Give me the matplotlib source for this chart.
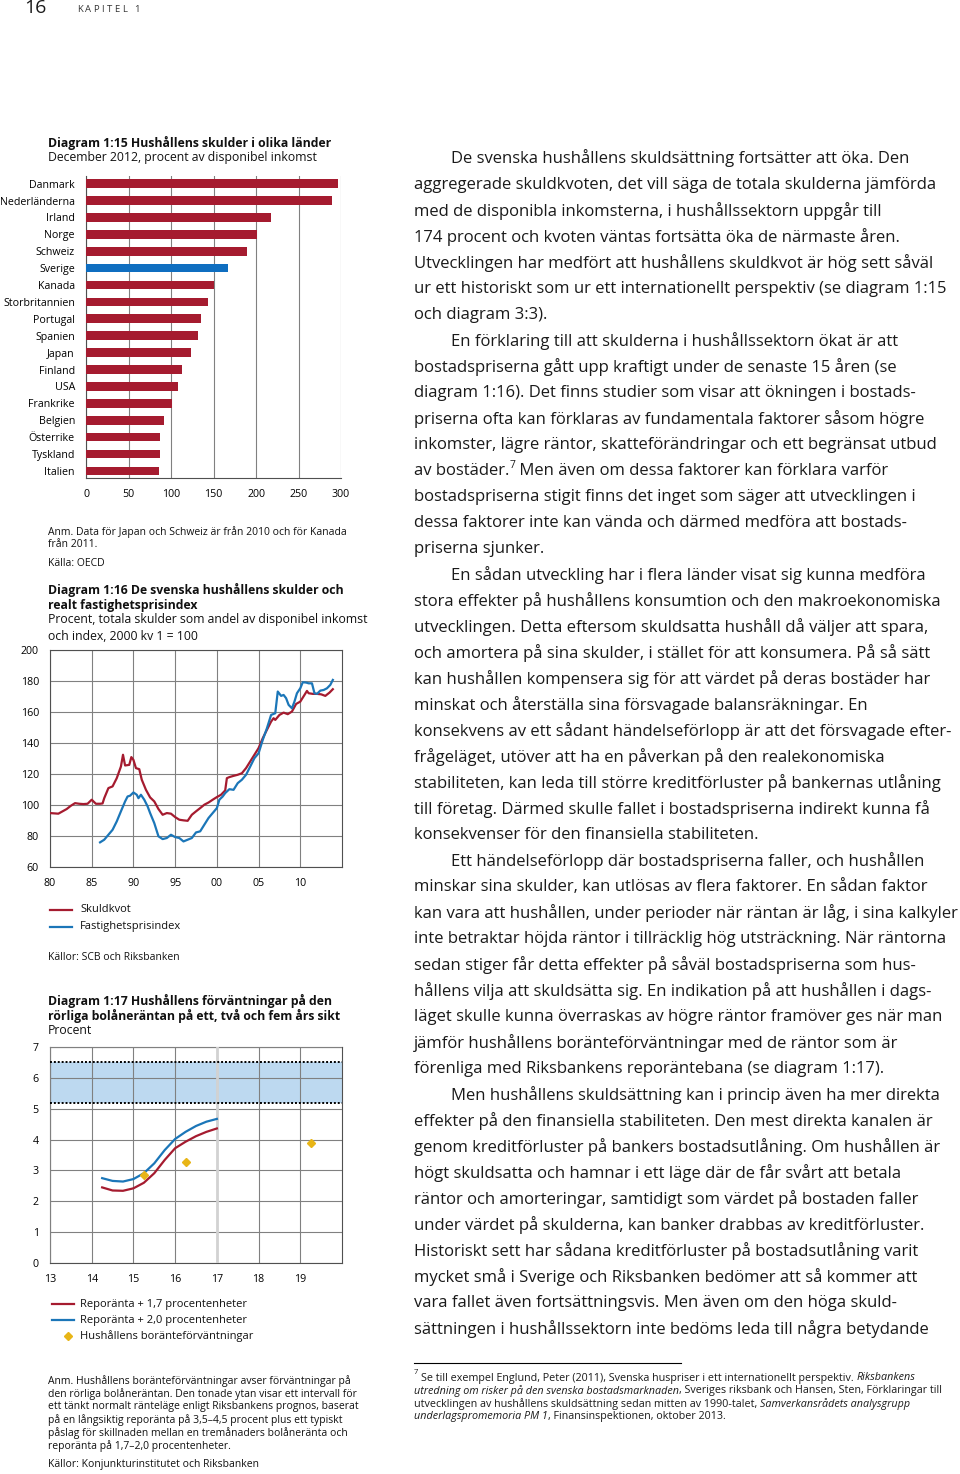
import matplotlib
matplotlib.use('Agg')
import matplotlib.pyplot as plt
from matplotlib.lines import Line2D
import numpy as np

W, H = 960, 1474
plt.rcParams['font.family'] = ['Open Sans', 'DejaVu Sans']

RED = '#a51b2f'
BLUE = '#1b76b8'
BAR_BLUE = '#0f6ec0'
GOLD = '#e8b516'
GRID = '#808080'
SPINE = '#505050'
BAND = '#bdd9f0'

# ---------------- data: Diagram 1:15 ----------------
countries = ['Danmark', 'Nederländerna', 'Irland', 'Norge', 'Schweiz', 'Sverige',
             'Kanada', 'Storbritannien', 'Portugal', 'Spanien', 'Japan', 'Finland',
             'USA', 'Frankrike', 'Belgien', 'Österrike', 'Tyskland', 'Italien']
debt = [297, 289, 218, 201, 189, 167, 151, 143, 135, 132, 123, 113, 108, 101, 92, 87, 86.5, 86]
bar_x_ticks = [0, 50, 100, 150, 200, 250, 300]

# ---------------- data: Diagram 1:16 ----------------
sk_years = [1980.0, 1981.0, 1982.0, 1982.5, 1983.0, 1983.5, 1984.0, 1984.5, 1985.0, 1985.5,
            1986.0, 1986.3, 1986.5, 1987.0, 1987.5, 1988.0, 1988.5, 1988.75, 1989.0, 1989.5,
            1989.75, 1990.0, 1990.3, 1990.7, 1991.0, 1991.5, 1992.0, 1992.5, 1993.0, 1993.5,
            1994.0, 1994.5, 1995.0, 1995.5, 1996.0, 1996.5, 1997.0, 1997.5, 1998.0, 1998.5,
            1999.0, 1999.5, 2000.0, 2000.5, 2001.0, 2001.2, 2001.5, 2002.0, 2002.5, 2003.0,
            2003.5, 2004.0, 2004.5, 2005.0, 2005.5, 2006.0, 2006.5, 2006.8, 2007.0, 2007.5,
            2008.0, 2008.5, 2009.0, 2009.5, 2010.0, 2010.5, 2010.8, 2011.0, 2011.5, 2012.0,
            2012.5, 2013.0, 2013.5, 2013.9]
sk_vals = [94.8, 94.4, 97.4, 99.5, 101.2, 100.8, 100.6, 100.8, 103.4, 100.8,
           100.8, 101.0, 104.4, 110.9, 112.0, 117.3, 124.8, 132.4, 125.5, 125.9,
           130.9, 129.1, 123.8, 123.1, 116.3, 109.8, 104.9, 102.3, 97.4, 93.7,
           94.8, 94.4, 92.2, 90.5, 90.1, 89.8, 93.7, 95.9, 98.0, 100.2,
           101.6, 103.4, 105.1, 106.6, 109.4, 117.3, 118.0, 118.8, 119.5, 120.5,
           123.8, 128.1, 132.4, 136.7, 143.1, 148.5, 153.8, 156.0, 154.9, 158.1,
           159.6, 158.6, 160.3, 165.2, 166.7, 171.0, 173.6, 172.1, 171.7, 171.7,
           171.4, 170.4, 172.5, 174.7]
fp_years = [1986.0, 1986.5, 1987.0, 1987.5, 1988.0, 1988.5, 1989.0, 1989.3, 1989.6, 1990.0,
            1990.4, 1990.6, 1990.9, 1991.3, 1991.7, 1992.0, 1992.5, 1993.0, 1993.5, 1994.0,
            1994.5, 1995.0, 1995.5, 1996.0, 1996.5, 1997.0, 1997.5, 1998.0, 1998.5, 1999.0,
            1999.5, 2000.0, 2000.3, 2000.7, 2001.0, 2001.5, 2002.0, 2002.5, 2003.0, 2003.5,
            2004.0, 2004.5, 2005.0, 2005.5, 2006.0, 2006.5, 2007.0, 2007.3, 2007.7, 2008.0,
            2008.3, 2008.6, 2009.0, 2009.3, 2009.6, 2010.0, 2010.3, 2010.7, 2011.0, 2011.4,
            2011.7, 2012.0, 2012.4, 2012.8, 2013.2, 2013.6, 2013.9]
fp_vals = [75.9, 77.6, 80.8, 84.0, 89.4, 95.9, 102.3, 105.5, 106.0, 108.1,
           106.6, 104.4, 106.6, 103.4, 99.1, 94.8, 88.3, 79.8, 78.0, 78.7,
           80.8, 79.3, 78.7, 76.5, 77.6, 78.7, 82.3, 83.0, 87.3, 91.6,
           94.8, 98.0, 103.4, 105.5, 107.7, 110.2, 109.8, 114.1, 116.3, 119.5,
           124.8, 130.2, 133.4, 142.0, 149.5, 158.1, 159.2, 173.2, 170.4, 171.0,
           168.9, 164.6, 162.4, 166.7, 172.1, 175.3, 179.2, 179.0, 178.5, 178.5,
           172.1, 171.7, 173.8, 174.2, 175.3, 177.5, 180.7]
yr_ticks = [1980, 1985, 1990, 1995, 2000, 2005, 2010]
yr_labels = ['80', '85', '90', '95', '00', '05', '10']

# ---------------- data: Diagram 1:17 ----------------
rate_x = [14.25, 14.5, 14.75, 15.0, 15.25, 15.5, 15.75, 16.0, 16.25, 16.5, 16.75, 17.0]
repo_17 = [2.45, 2.35, 2.34, 2.42, 2.60, 2.91, 3.34, 3.72, 3.93, 4.11, 4.25, 4.36]
repo_20 = [2.75, 2.66, 2.64, 2.72, 2.91, 3.23, 3.66, 4.02, 4.25, 4.44, 4.58, 4.67]
exp_x = [15.25, 16.25, 19.25]
exp_vals = [2.86, 3.28, 3.89]
band_low, band_high = 5.2, 6.5
rate_xticks = [13, 14, 15, 16, 17, 18, 19]

fig = plt.figure(figsize=(W / 100, H / 100), dpi=100)
renderer = fig.canvas.get_renderer()


def ax_px(l, t, r, b):
    return fig.add_axes([l / W, 1 - b / H, (r - l) / W, (b - t) / H])


def ftext(x, y, s, **kw):
    kw.setdefault('va', 'center')
    kw.setdefault('ha', 'left')
    return fig.text(x / W, 1 - y / H, s, **kw)


def twidth(s, **kw):
    t1 = fig.text(0, 0, '|' + s + '|', **kw)
    t2 = fig.text(0, 0, '||', **kw)
    w = t1.get_window_extent(renderer).width - t2.get_window_extent(renderer).width
    t1.remove(); t2.remove()
    return w


def runs(x, y, parts, size, color='#1a1a1a'):
    for s, st in parts:
        st = dict(st)
        dy = st.pop('dy', 0)
        sz = st.pop('size', size)
        kw = dict(fontsize=sz, color=color, **st)
        ftext(x, y - dy, s, **kw)
        x += twidth(s, **kw)


# ---------------- header ----------------
ftext(24, 8, '16', fontsize=14, color='#1a1a1a')
xx = 77
for ch in 'KAPITEL 1':
    ftext(xx, 9, ch, fontsize=6.8, color='#333333')
    xx += twidth(ch, fontsize=6.8) + 2.4

TS = 8.8   # chart title size
NS = 7.5   # note size
TK = 7.7   # tick size
LG = 8.0   # legend size

# ---------------- Diagram 1:15 ----------------
ftext(48, 143, 'Diagram 1:15 Hushållens skulder i olika länder', fontsize=TS, fontweight='bold', color='#111')
ftext(48, 158, 'December 2012, procent av disponibel inkomst', fontsize=TS, color='#111')
ax1 = ax_px(86, 176, 341, 478)
pos = np.arange(len(countries))
cols = [BAR_BLUE if c == 'Sverige' else RED for c in countries]
ax1.barh(pos, debt, height=0.52, color=cols, zorder=3)
ax1.set_xlim(0, 300)
ax1.set_ylim(len(countries) - 1 + 0.42, -0.45)
ax1.set_xticks(bar_x_ticks)
ax1.set_yticks(pos, countries)
ax1.tick_params(length=0, labelsize=TK, pad=8)
ax1.grid(axis='x', color=GRID, lw=0.8, zorder=0)
for s in ['top', 'right']:
    ax1.spines[s].set_visible(False)
for s in ['left', 'bottom']:
    ax1.spines[s].set_color(SPINE)
    ax1.spines[s].set_linewidth(0.8)
ax1.set_axisbelow(True)

ftext(48, 532, 'Anm. Data för Japan och Schweiz är från 2010 och för Kanada', fontsize=NS, color='#111')
ftext(48, 545, 'från 2011.', fontsize=NS, color='#111')
ftext(48, 564, 'Källa: OECD', fontsize=NS, color='#111')

# ---------------- Diagram 1:16 ----------------
ftext(48, 590, 'Diagram 1:16 De svenska hushållens skulder och', fontsize=TS, fontweight='bold', color='#111')
ftext(48, 605, 'realt fastighetsprisindex', fontsize=TS, fontweight='bold', color='#111')
ftext(48, 620, 'Procent, totala skulder som andel av disponibel inkomst', fontsize=TS, color='#111')
ftext(48, 636, 'och index, 2000 kv 1 = 100', fontsize=TS, color='#111')
ax2 = ax_px(50, 650, 342, 867)
ax2.plot(sk_years, sk_vals, color=RED, lw=1.6, zorder=3)
ax2.plot(fp_years, fp_vals, color=BLUE, lw=1.6, zorder=3)
ax2.set_xlim(1980, 2015)
ax2.set_ylim(60, 200)
ax2.set_xticks(yr_ticks, yr_labels)
ax2.set_yticks(range(60, 201, 20))
ax2.tick_params(length=0, labelsize=TK, pad=8)
ax2.grid(color=GRID, lw=0.8, zorder=0)
for s in ax2.spines.values():
    s.set_color(SPINE); s.set_linewidth(0.8)

fig.add_artist(Line2D([50 / W, 72 / W], [1 - 910 / H] * 2, color=RED, lw=1.6))
fig.add_artist(Line2D([50 / W, 72 / W], [1 - 927 / H] * 2, color=BLUE, lw=1.6))
ftext(80, 910, 'Skuldkvot', fontsize=LG, color='#111')
ftext(80, 927, 'Fastighetsprisindex', fontsize=LG, color='#111')
ftext(48, 957, 'Källor: SCB och Riksbanken', fontsize=NS, color='#111')

# ---------------- Diagram 1:17 ----------------
ftext(48, 1001, 'Diagram 1:17 Hushållens förväntningar på den', fontsize=TS, fontweight='bold', color='#111')
ftext(48, 1016, 'rörliga bolåneräntan på ett, två och fem års sikt', fontsize=TS, fontweight='bold', color='#111')
ftext(48, 1031, 'Procent', fontsize=TS, color='#111')
ax3 = ax_px(50, 1047, 342, 1263)
ax3.axhspan(band_low, band_high, color=BAND, zorder=0.5, lw=0)
ax3.axvline(17, color='#d2d2d2', lw=2.0, zorder=2.6)
ax3.axhline(band_low, color='black', lw=1.4, ls=(0, (1, 1)), zorder=2.7)
ax3.axhline(band_high, color='black', lw=1.4, ls=(0, (1, 1)), zorder=2.7)
ax3.plot(rate_x, repo_17, color=RED, lw=1.6, zorder=3)
ax3.plot(rate_x, repo_20, color=BLUE, lw=1.6, zorder=3)
ax3.plot(exp_x, exp_vals, ls='none', marker='D', ms=4.5, color=GOLD, zorder=4)
ax3.set_xlim(13, 20)
ax3.set_ylim(0, 7)
ax3.set_xticks(rate_xticks)
ax3.set_yticks(range(0, 8))
ax3.tick_params(length=0, labelsize=TK, pad=8)
ax3.grid(color=GRID, lw=0.8)
ax3.set_axisbelow(False)
for s in ax3.spines.values():
    s.set_color(SPINE); s.set_linewidth(0.8)

fig.add_artist(Line2D([52 / W, 74 / W], [1 - 1304 / H] * 2, color=RED, lw=1.6))
fig.add_artist(Line2D([52 / W, 74 / W], [1 - 1320 / H] * 2, color=BLUE, lw=1.6))
fig.add_artist(Line2D([68 / W], [1 - 1336 / H], marker='D', ms=4, color=GOLD, ls='none'))
ftext(80, 1304, 'Reporänta + 1,7 procentenheter', fontsize=LG, color='#111')
ftext(80, 1320, 'Reporänta + 2,0 procentenheter', fontsize=LG, color='#111')
ftext(80, 1336, 'Hushållens boränteförväntningar', fontsize=LG, color='#111')

anm = ['Anm. Hushållens boränteförväntningar avser förväntningar på',
       'den rörliga bolåneräntan. Den tonade ytan visar ett intervall för',
       'ett tänkt normalt ränteläge enligt Riksbankens prognos, baserat',
       'på en långsiktig reporänta på 3,5–4,5 procent plus ett typiskt',
       'påslag för skillnaden mellan en tremånaders bolåneränta och',
       'reporänta på 1,7–2,0 procentenheter.']
for i, l in enumerate(anm):
    ftext(48, 1381 + 13 * i, l, fontsize=NS, color='#111')
ftext(48, 1465, 'Källor: Konjunkturinstitutet och Riksbanken', fontsize=NS, color='#111')

# ---------------- body text ----------------
BODY = 12
body = [
    (1, 'De svenska hushållens skuldsättning fortsätter att öka. Den'),
    (0, 'aggregerade skuldkvoten, det vill säga de totala skulderna jämförda'),
    (0, 'med de disponibla inkomsterna, i hushållssektorn uppgår till'),
    (0, '174 procent och kvoten väntas fortsätta öka de närmaste åren.'),
    (0, 'Utvecklingen har medfört att hushållens skuldkvot är hög sett såväl'),
    (0, 'ur ett historiskt som ur ett internationellt perspektiv (se diagram 1:15'),
    (0, 'och diagram 3:3).'),
    (1, 'En förklaring till att skulderna i hushållssektorn ökat är att'),
    (0, 'bostadspriserna gått upp kraftigt under de senaste 15 åren (se'),
    (0, 'diagram 1:16). Det finns studier som visar att ökningen i bostads-'),
    (0, 'priserna ofta kan förklaras av fundamentala faktorer såsom högre'),
    (0, 'inkomster, lägre räntor, skatteförändringar och ett begränsat utbud'),
    (0, None),
    (0, 'bostadspriserna stigit finns det inget som säger att utvecklingen i'),
    (0, 'dessa faktorer inte kan vända och därmed medföra att bostads-'),
    (0, 'priserna sjunker.'),
    (1, 'En sådan utveckling har i flera länder visat sig kunna medföra'),
    (0, 'stora effekter på hushållens konsumtion och den makroekonomiska'),
    (0, 'utvecklingen. Detta eftersom skuldsatta hushåll då väljer att spara,'),
    (0, 'och amortera på sina skulder, i stället för att konsumera. På så sätt'),
    (0, 'kan hushållen kompensera sig för att värdet på deras bostäder har'),
    (0, 'minskat och återställa sina försvagade balansräkningar. En'),
    (0, 'konsekvens av ett sådant händelseförlopp är att det försvagade efter-'),
    (0, 'frågeläget, utöver att ha en påverkan på den realekonomiska'),
    (0, 'stabiliteten, kan leda till större kreditförluster på bankernas utlåning'),
    (0, 'till företag. Därmed skulle fallet i bostadspriserna indirekt kunna få'),
    (0, 'konsekvenser för den finansiella stabiliteten.'),
    (1, 'Ett händelseförlopp där bostadspriserna faller, och hushållen'),
    (0, 'minskar sina skulder, kan utlösas av flera faktorer. En sådan faktor'),
    (0, 'kan vara att hushållen, under perioder när räntan är låg, i sina kalkyler'),
    (0, 'inte betraktar höjda räntor i tillräcklig hög utsträckning. När räntorna'),
    (0, 'sedan stiger får detta effekter på såväl bostadspriserna som hus-'),
    (0, 'hållens vilja att skuldsätta sig. En indikation på att hushållen i dags-'),
    (0, 'läget skulle kunna överraskas av högre räntor framöver ges när man'),
    (0, 'jämför hushållens boränteförväntningar med de räntor som är'),
    (0, 'förenliga med Riksbankens reporäntebana (se diagram 1:17).'),
    (1, 'Men hushållens skuldsättning kan i princip även ha mer direkta'),
    (0, 'effekter på den finansiella stabiliteten. Den mest direkta kanalen är'),
    (0, 'genom kreditförluster på bankers bostadsutlåning. Om hushållen är'),
    (0, 'högt skuldsatta och hamnar i ett läge där de får svårt att betala'),
    (0, 'räntor och amorteringar, samtidigt som värdet på bostaden faller'),
    (0, 'under värdet på skulderna, kan banker drabbas av kreditförluster.'),
    (0, 'Historiskt sett har sådana kreditförluster på bostadsutlåning varit'),
    (0, 'mycket små i Sverige och Riksbanken bedömer att så kommer att'),
    (0, 'vara fallet även fortsättningsvis. Men även om den höga skuld-'),
    (0, 'sättningen i hushållssektorn inte bedöms leda till några betydande'),
]
for i, (ind, line) in enumerate(body):
    y = 158.5 + 26.02 * i
    x = 451 if ind else 414
    if line is None:
        runs(x, y, [('av bostäder.', {}), ('7', {'size': 7.5, 'dy': 5}),
                    (' Men även om dessa faktorer kan förklara varför', {})], BODY)
    else:
        ftext(x, y, line, fontsize=BODY, color='#1a1a1a')

# ---------------- footnote ----------------
fig.add_artist(Line2D([414 / W, 681 / W], [1 - 1363 / H] * 2, color='black', lw=0.8))
FN = 7.75
it = {'style': 'italic'}
runs(414, 1376, [('7', {'size': 5.5, 'dy': 3})], FN)
runs(421, 1378, [('Se till exempel Englund, Peter (2011), Svenska huspriser i ett internationellt perspektiv. ', {}),
                 ('Riksbankens', it)], FN)
runs(414, 1391, [('utredning om risker på den svenska bostadsmarknaden', it),
                 (', Sveriges riksbank och Hansen, Sten, Förklaringar till', {})], FN)
runs(414, 1404, [('utvecklingen av hushållens skuldsättning sedan mitten av 1990-talet, ', {}),
                 ('Samverkansrådets analysgrupp', it)], FN)
runs(414, 1417, [('underlagspromemoria PM 1', it), (', Finansinspektionen, oktober 2013.', {})], FN)

fig.savefig('out.png', dpi=100, facecolor='white')
